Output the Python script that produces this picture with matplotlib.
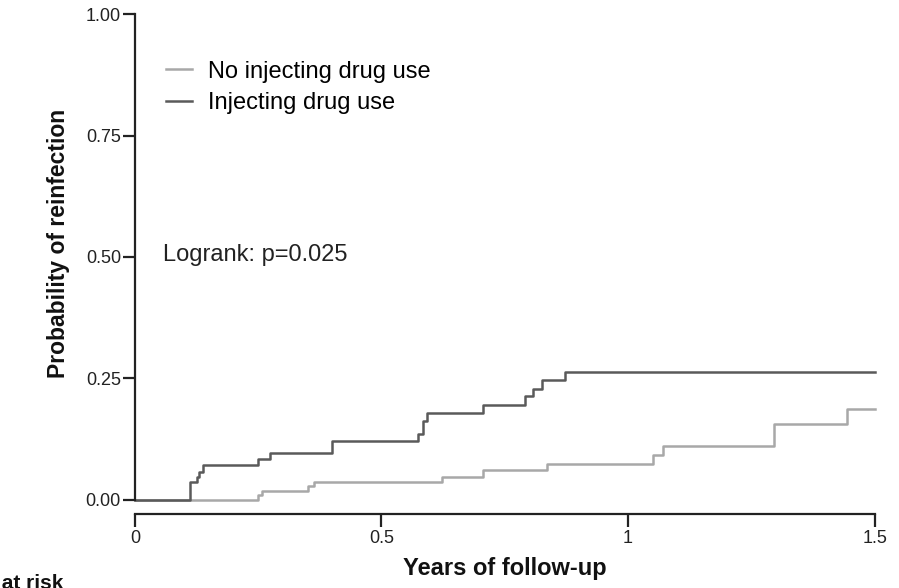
import matplotlib
matplotlib.use('Agg')
import matplotlib.pyplot as plt
from matplotlib import font_manager

# step curves (years, cumulative probability)
idu_t = [0, 0.111, 0.125, 0.130, 0.138, 0.250, 0.274, 0.400, 0.574, 0.584, 0.593,
         0.706, 0.791, 0.807, 0.826, 0.873, 1.5]
idu_p = [0, 0.037, 0.047, 0.057, 0.072, 0.083, 0.097, 0.122, 0.136, 0.163, 0.179,
         0.196, 0.213, 0.229, 0.246, 0.264, 0.264]

noidu_t = [0, 0.250, 0.258, 0.351, 0.363, 0.622, 0.705, 0.835, 1.051, 1.071, 1.295,
           1.443, 1.5]
noidu_p = [0, 0.009, 0.018, 0.028, 0.037, 0.047, 0.061, 0.074, 0.093, 0.111, 0.157,
           0.186, 0.186]

xticks = [0, 0.5, 1, 1.5]
xtick_labels = ['0', '0.5', '1', '1.5']
yticks = [0, 0.25, 0.5, 0.75, 1.0]
ytick_labels = ['0.00', '0.25', '0.50', '0.75', '1.00']

names = {f.name for f in font_manager.fontManager.ttflist}
narrow = 'Liberation Sans Narrow' if 'Liberation Sans Narrow' in names else 'Liberation Sans'
plt.rcParams['font.family'] = ['Liberation Sans', 'DejaVu Sans']

light = '#a8a8a8'
dark = '#5a5a5a'

fig = plt.figure(figsize=(8.99, 5.88), dpi=100)
ax = fig.add_axes([0.150, 0.150, 0.823, 0.826])

ax.step(noidu_t, noidu_p, where='post', color=light, lw=1.8, clip_on=False,
        label='No injecting drug use')
ax.step(idu_t, idu_p, where='post', color=dark, lw=1.8, clip_on=False,
        label='Injecting drug use')

ax.set_xlim(0, 1.5)
ax.set_ylim(0, 1.0)
ax.spines['top'].set_visible(False)
ax.spines['right'].set_visible(False)
ax.spines['bottom'].set_position(('outward', 10))
for s in ['left', 'bottom']:
    ax.spines[s].set_linewidth(1.6)
    ax.spines[s].set_color('#222222')

ax.set_xticks(xticks)
ax.set_xticklabels(xtick_labels, family=narrow, fontsize=13)
ax.set_yticks(yticks)
ax.set_yticklabels(ytick_labels, family=narrow, fontsize=13)
ax.tick_params(axis='both', length=9, width=1.6, color='#222222', labelcolor='#222222')
ax.tick_params(axis='x', pad=3)
ax.tick_params(axis='y', pad=1)

ax.set_xlabel('Years of follow-up', family=narrow, fontsize=17, fontweight='bold',
              labelpad=7, color='#111111')
ax.set_ylabel('Probability of reinfection', fontsize=16.5, fontweight='bold',
              color='#111111')
ax.yaxis.set_label_coords(-0.088, 0.527)

ax.legend(loc='upper left', bbox_to_anchor=(0.042, 0.904), frameon=False, fontsize=17,
          handlelength=1.1, handletextpad=0.68, labelspacing=0.39, borderpad=0,
          borderaxespad=0)

ax.text(0.057, 0.505, 'Logrank: p=0.025', fontsize=17, va='center', ha='left',
        color='#222222')

# "Number at risk" table header, cut off by the left edge as in the source
fig.text(63 / 899, 1 - 574 / 588, 'Number at risk', ha='right', va='top', fontsize=15,
         fontweight='bold', color='#111111')

fig.savefig('out.png', dpi=100)
